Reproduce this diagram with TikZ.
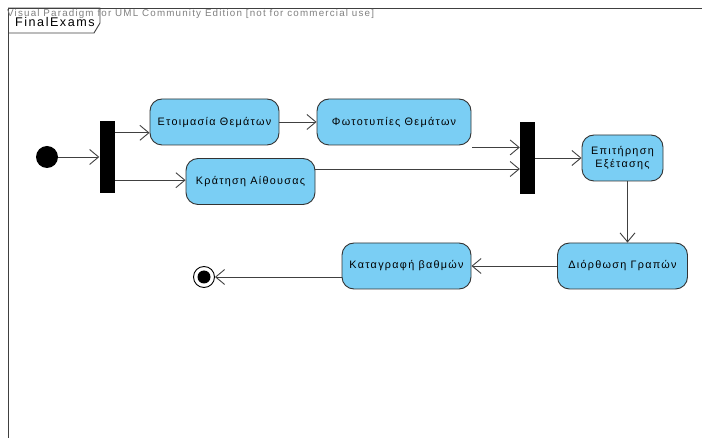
\documentclass[tikz,border=0pt]{standalone}
\usepackage{fontspec}
\setmainfont[LetterSpace=12]{Liberation Sans}
\usetikzlibrary{arrows.meta}
\definecolor{actblue}{RGB}{122,206,244}
\definecolor{linegray}{RGB}{64,64,64}
\tikzstyle{activity} = [rectangle, rounded corners=12pt, minimum width=129pt, minimum height=46pt, inner sep=2pt, text centered, draw=black!80, line width=0.9pt, fill=actblue, font=\fontsize{10.8}{13}\selectfont]
\tikzstyle{bar} = [rectangle, minimum width=15pt, minimum height=72pt, inner sep=0pt, fill=black]
\tikzstyle{initial} = [circle, minimum size=22pt, inner sep=0pt, fill=black]
\tikzstyle{final} = [circle, minimum size=21pt, inner sep=0pt, draw=black, line width=0.9pt, fill=white, path picture={\fill[black] (path picture bounding box.center) circle (6.5pt);}]
\tikzstyle{arrow} = [draw=linegray, line width=0.9pt, -{Straight Barb[length=9pt,width=15pt]}]

\begin{document}
\begin{tikzpicture}[x=1pt, y=1pt, node distance=60pt]
\useasboundingbox (0,0) rectangle (702,-438);

% Rahmen
\draw[draw=linegray, line width=0.9pt] (702,-8) -- (8,-8) -- (8,-438);
\draw[draw=linegray, line width=0.9pt] (8,-8) -- (100,-8) -- (100,-23) -- (94,-33) -- (8,-33);
\node (title) [anchor=base west, inner sep=0pt, font=\fontsize{12.6}{15}\selectfont] at (15,-27) {FinalExams};
\node (watermark) [anchor=base west, inner sep=0pt, text=gray, font=\fontsize{9.8}{12}\selectfont] at (7,-17) {Visual Paradigm for UML Community Edition [not for commercial use]};

% Knoten
\node (init) [initial] at (47,-157) {};
\node (fork) [bar, right of=init] {};
\node (etoim) [activity, right of=fork, xshift=47.5pt, yshift=35pt] {Ετοιμασία Θεμάτων};
\node (kratisi) [activity, right of=fork, xshift=83.5pt, yshift=-24.5pt] {Κράτηση Αίθουσας};
\node (foto) [activity, right of=etoim, xshift=119.5pt, minimum width=154pt] {Φωτοτυπίες Θεμάτων};
\node (join) [bar, right of=foto, xshift=73.5pt, yshift=-36pt] {};
\node (epitir) [activity, right of=join, xshift=35pt, minimum width=81pt, align=center] {Επιτήρηση\\Εξέτασης};
\node (diorth) [activity, below of=epitir, yshift=-48pt, minimum width=130pt] {Διόρθωση Γραπών};
\node (katag) [activity, left of=diorth, xshift=-156pt] {Καταγραφή βαθμών};
\node (final) [final, left of=katag, xshift=-142.5pt, yshift=-11pt] {};

\coordinate (f1) at ([yshift=-12pt]fork.north east);
\coordinate (f2) at ([yshift=13pt]fork.south east);
\coordinate (fotoout) at ([shift={(1pt,-2pt)}]foto.south east);
\coordinate (kratout) at ([yshift=12.5pt]kratisi.east);
\coordinate (epout) at ([xshift=5pt]epitir.south);

% Verbindungen
\draw [arrow] (init) -- (fork.west);
\draw [arrow] (f1) -- (f1 -| etoim.west);
\draw [arrow] (f2) -- (f2 -| kratisi.west);
\draw [arrow] (etoim.east) -- (foto.west);
\draw [arrow] (fotoout) -- (fotoout -| join.west);
\draw [arrow] (kratout) -- (kratout -| join.west);
\draw [arrow] (join.east) -- (epitir.west);
\draw [arrow] (epout) -- (epout |- diorth.north);
\draw [arrow] (diorth.west) -- (katag.east);
\draw [arrow] (katag.west |- final) -- (final);

\end{tikzpicture}
\end{document}
